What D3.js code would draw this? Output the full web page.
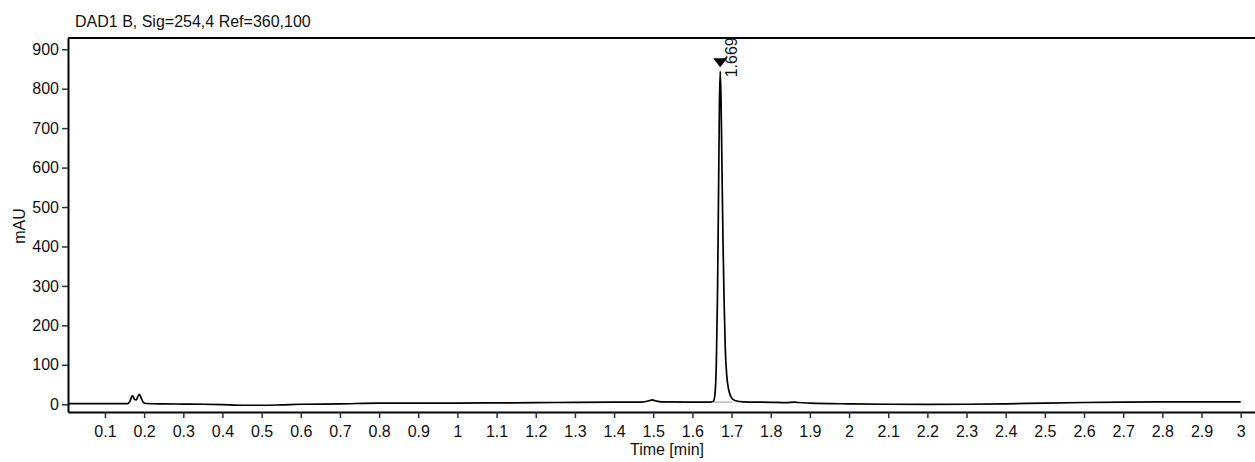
<!DOCTYPE html>
<html>
<head>
<meta charset="utf-8">
<script src="https://cdn.jsdelivr.net/npm/d3@7"></script>
<style>
  body { margin: 0; background: #fff; }
  svg text { font-family: "Liberation Sans", Arial, sans-serif; fill: #111; }
</style>
</head>
<body>
<div id="chart"></div>
<script>
// signal trace, time in min, absorbance in mAU
let times = [0.006, 0.05, 0.10, 0.158, 0.164, 0.170, 0.176, 0.180, 0.184, 0.188, 0.193, 0.198, 0.205,
    0.25, 0.30, 0.35, 0.40, 0.45, 0.50, 0.55, 0.60, 0.70, 0.80, 0.90, 1.00, 1.10, 1.20, 1.30, 1.40,
    1.47, 1.49, 1.497, 1.505, 1.52, 1.60, 1.647, 1.654, 1.658, 1.661, 1.664, 1.667, 1.669, 1.671,
    1.673, 1.675, 1.678, 1.681, 1.684, 1.688, 1.692, 1.697, 1.702, 1.71, 1.73, 1.80, 1.84, 1.86,
    1.87, 1.90, 2.00, 2.10, 2.20, 2.30, 2.40, 2.50, 2.60, 2.70, 2.80, 2.90, 3.00];
let signal = [1.5, 1.5, 1.5, 1.8, 8, 22, 12, 11, 20, 25, 14, 5, 2,
    1, 0.5, 0, -1, -2.5, -2.5, -1.5, 0, 1, 3, 3, 3, 3.5, 4, 5, 5.5,
    5.5, 9, 11, 9, 6, 5.5, 5.5, 8, 30, 100, 270, 560, 760, 844,
    780, 640, 420, 260, 140, 70, 40, 22, 14, 9, 6, 5, 4, 5.5,
    4.5, 3, 1, 0, -0.5, 0, 1, 3, 4.5, 5.5, 6, 6, 6];

// integrated peak
let peakTimes = [1.671];
let peakHeights = [844];
let peakLabels = ["1.669"];
let integBaseTimes = [1.654, 1.702];
let integBaseValues = [5.5, 5.5];

let xTicks = [0.1, 0.2, 0.3, 0.4, 0.5, 0.6, 0.7, 0.8, 0.9, 1, 1.1, 1.2, 1.3, 1.4, 1.5, 1.6, 1.7,
    1.8, 1.9, 2, 2.1, 2.2, 2.3, 2.4, 2.5, 2.6, 2.7, 2.8, 2.9, 3];
let yTicks = [0, 100, 200, 300, 400, 500, 600, 700, 800, 900];

let title = "DAD1 B, Sig=254,4 Ref=360,100";

let width = 1255, height = 462;
let plotLeft = 68, plotTop = 38, plotBottom = 412, plotRight = 1255;

let svg = d3.select("#chart").append("svg")
    .attr("width", width)
    .attr("height", height);

let x = d3.scaleLinear().domain([0.0056, 3.0366]).range([plotLeft, plotRight]);
let y = d3.scaleLinear().domain([-19.6, 928.5]).range([plotBottom, plotTop]);

let tickColor = "#1f3347";

// x axis
let xAxis = svg.append("g")
    .attr("transform", `translate(0,${plotBottom})`)
    .call(d3.axisBottom(x).tickValues(xTicks).tickFormat(d3.format("")).tickSizeInner(6).tickSizeOuter(0));
xAxis.select(".domain").attr("stroke", "#000").attr("stroke-width", 2);
xAxis.selectAll(".tick line").attr("stroke", tickColor).attr("stroke-width", 1.5);
xAxis.selectAll(".tick text").attr("font-size", 16).attr("dy", "1.0em").attr("fill", "#111")
    .attr("font-family", "Liberation Sans, Arial, sans-serif");

// y axis
let yAxis = svg.append("g")
    .attr("transform", `translate(${plotLeft},0)`)
    .call(d3.axisLeft(y).tickValues(yTicks).tickSizeInner(6).tickSizeOuter(0).tickPadding(3));
yAxis.select(".domain").attr("stroke", "#000").attr("stroke-width", 2);
yAxis.selectAll(".tick line").attr("stroke", tickColor).attr("stroke-width", 1.5);
yAxis.selectAll(".tick text").attr("font-size", 16).attr("fill", "#111")
    .attr("font-family", "Liberation Sans, Arial, sans-serif");

// top frame line
svg.append("line")
    .attr("x1", plotLeft).attr("x2", plotRight)
    .attr("y1", plotTop).attr("y2", plotTop)
    .attr("stroke", "#000").attr("stroke-width", 2);

// integration baseline
let pts = times.map((t, i) => [t, signal[i]]);
svg.append("line")
    .attr("x1", x(integBaseTimes[0])).attr("x2", x(integBaseTimes[1]))
    .attr("y1", y(integBaseValues[0])).attr("y2", y(integBaseValues[1]))
    .attr("stroke", "#999").attr("stroke-width", 1);

// trace
let line = d3.line()
    .x(d => x(d[0]))
    .y(d => y(d[1]))
    .curve(d3.curveMonotoneX);
svg.append("path")
    .datum(pts)
    .attr("d", line)
    .attr("fill", "none")
    .attr("stroke", "#000")
    .attr("stroke-width", 1.7);

// peak markers
peakTimes.forEach((t, i) => {
    let px = x(t), py = y(peakHeights[i]) - 4;
    svg.append("path")
        .attr("d", `M${px - 7},${py - 9}L${px + 7},${py - 9}L${px},${py}Z`)
        .attr("fill", "#000");
    svg.append("text")
        .attr("transform", `translate(${px + 17},${py + 10}) rotate(-90)`)
        .attr("font-size", 16)
        .text(peakLabels[i]);
});

// labels
svg.append("text")
    .attr("x", 75).attr("y", 27)
    .attr("font-size", 16)
    .text(title);

svg.append("text")
    .attr("transform", `translate(25,226) rotate(-90)`)
    .attr("text-anchor", "middle")
    .attr("font-size", 16)
    .text("mAU");

svg.append("text")
    .attr("x", 667).attr("y", 455)
    .attr("text-anchor", "middle")
    .attr("font-size", 16)
    .text("Time [min]");
</script>
</body>
</html>
